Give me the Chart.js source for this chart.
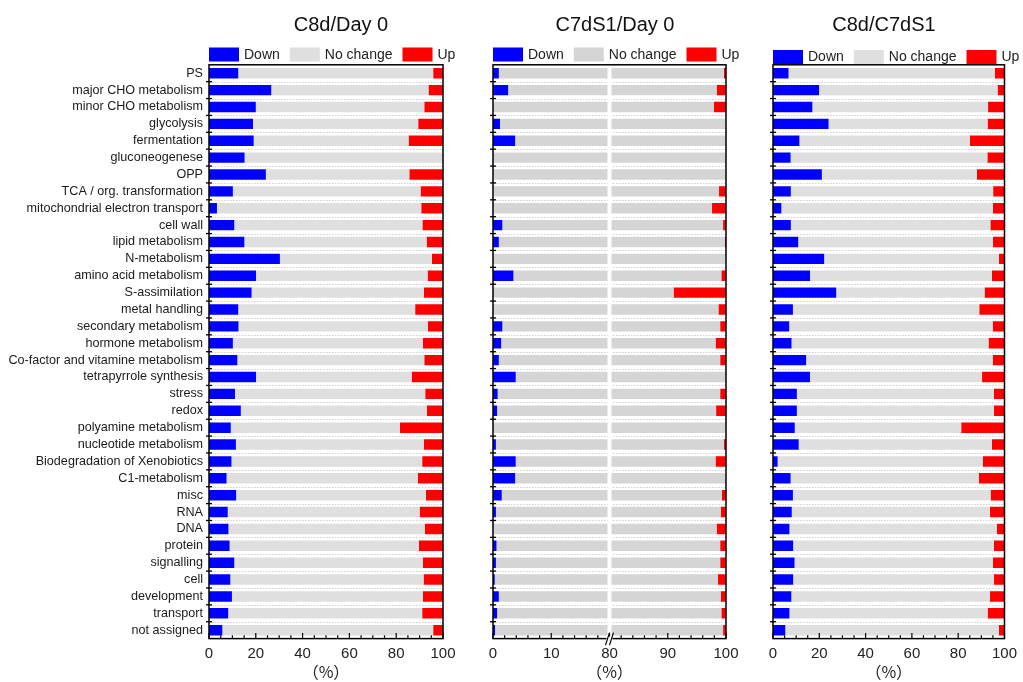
<!DOCTYPE html>
<html>
<head>
<meta charset="utf-8">
<title>Functional categories</title>
<script src="https://cdn.jsdelivr.net/npm/chart.js@4.4.0/dist/chart.umd.min.js"></script>
<style>
  body { margin: 0; background: #fff; }
  #wrap { position: relative; width: 1023px; height: 682px; overflow: hidden; }
  canvas { position: absolute; top: 0; }
</style>
</head>
<body>
<div id="wrap">
  <canvas id="c1" width="470" height="682" style="left:0px"></canvas>
  <canvas id="c2" width="285" height="682" style="left:470px"></canvas>
  <canvas id="c3" width="268" height="682" style="left:755px"></canvas>
</div>
<script>
// Data
const categories = [
  "PS", "major CHO metabolism", "minor CHO metabolism", "glycolysis", "fermentation",
  "gluconeogenese", "OPP", "TCA / org. transformation", "mitochondrial electron transport",
  "cell wall", "lipid metabolism", "N-metabolism", "amino acid metabolism", "S-assimilation",
  "metal handling", "secondary metabolism", "hormone metabolism",
  "Co-factor and vitamine metabolism", "tetrapyrrole synthesis", "stress", "redox",
  "polyamine metabolism", "nucleotide metabolism", "Biodegradation of Xenobiotics",
  "C1-metabolism", "misc", "RNA", "DNA", "protein", "signalling", "cell", "development",
  "transport", "not assigned"
];
const seriesNames = ["Down", "No change", "Up"];
const panelTitles = ["C8d/Day 0", "C7dS1/Day 0", "C8d/C7dS1"];
const axisTitle = "（%）";

// C8d/Day 0
const down1 = [12.5, 26.6, 20.0, 18.8, 19.1, 15.2, 24.3, 10.2, 3.4, 10.8, 15.1, 30.3, 20.1, 18.2, 12.5, 12.6, 10.2,
  12.1, 20.1, 11.1, 13.6, 9.3, 11.5, 9.6, 7.5, 11.6, 8.0, 8.3, 8.8, 10.8, 9.1, 9.8, 8.2, 5.7];
const up1 = [4.2, 6.2, 8.0, 10.6, 14.7, 0, 14.4, 9.6, 9.3, 8.8, 7.0, 4.7, 6.6, 8.2, 11.9, 6.5, 8.6,
  8.0, 13.4, 7.6, 6.9, 18.4, 8.2, 8.9, 10.8, 7.3, 10.0, 7.8, 10.3, 8.6, 8.3, 8.6, 8.9, 4.2];

// C7dS1/Day 0
const down2 = [1.0, 2.6, 0, 1.2, 3.8, 0, 0, 0, 0, 1.6, 1.0, 0, 3.5, 0, 0, 1.6, 1.4,
  1.0, 3.9, 0.8, 0.7, 0, 0.5, 3.9, 3.8, 1.5, 0.5, 0, 0.6, 0.5, 0.3, 1.0, 0.7, 0.35];
const up2 = [0.35, 1.6, 2.1, 0, 0, 0, 0, 1.2, 2.4, 0.5, 0.2, 0, 0.8, 9.0, 1.3, 1.0, 1.8,
  1.0, 0, 1.0, 1.7, 0, 0.35, 1.8, 0, 0.7, 0.9, 1.6, 1.0, 1.0, 1.4, 0.9, 0.8, 0.5];

// C8d/C7dS1
const down3 = [6.7, 19.9, 17.0, 24.0, 11.4, 7.6, 21.1, 7.7, 3.6, 7.7, 10.9, 22.1, 16.0, 27.3, 8.6, 7.0, 8.0,
  14.3, 16.0, 10.3, 10.3, 9.4, 11.1, 2.0, 7.6, 8.6, 8.1, 7.1, 8.7, 9.3, 8.7, 7.9, 7.1, 5.3];
const up3 = [4.1, 3.0, 7.1, 7.3, 15.0, 7.4, 11.9, 4.9, 5.0, 6.1, 5.0, 2.4, 5.4, 8.6, 10.9, 5.1, 6.9,
  5.1, 9.7, 4.6, 4.6, 18.7, 5.4, 9.4, 11.1, 6.0, 6.3, 3.3, 4.6, 5.0, 4.6, 6.3, 7.3, 2.4];

// Tick labels
const tickLabelsFull = ["0", "20", "40", "60", "80", "100"];
const tickLabelsBroken = ["0", "10", "80", "90", "100"];

const BLUE = "#0000ff";
const RED = "#ff0000";
const FONT = "'Liberation Sans', Arial, sans-serif";

// Broken axis: 0-20 kept, 80-100 moved next to it
function squeeze(v) {
  return v <= 20 ? v : v - 60;
}

// Decorations: row separators, frame, ticks, axis break, legend, title
const decorPlugin = {
  id: "decor",
  beforeDatasetsDraw(chart, args, opts) {
    const { ctx, chartArea: a, scales: { y } } = chart;
    ctx.save();
    ctx.strokeStyle = "#cfcfcf";
    ctx.lineWidth = 1;
    ctx.setLineDash([1.5, 1.5]);
    for (let i = 0; i < categories.length - 1; i++) {
      const yy = Math.round((y.getPixelForValue(i) + y.getPixelForValue(i + 1)) / 2) + 0.5;
      ctx.beginPath();
      ctx.moveTo(a.left, yy);
      ctx.lineTo(a.right, yy);
      ctx.stroke();
    }
    ctx.restore();
  },
  afterDatasetsDraw(chart, args, opts) {
    const { ctx, chartArea: a, scales: { x, y } } = chart;
    ctx.save();

    // white gap of the broken axis
    if (opts.broken) {
      const xb = x.getPixelForValue(20);
      ctx.fillStyle = "#fff";
      ctx.fillRect(xb - 2, a.top, 4, a.bottom - a.top);
    }

    // frame
    ctx.strokeStyle = "#000";
    ctx.lineWidth = 1.5;
    ctx.strokeRect(a.left, a.top, a.right - a.left, a.bottom - a.top);

    // y ticks between rows
    ctx.lineWidth = 1.3;
    for (let i = 0; i < categories.length - 1; i++) {
      const yy = (y.getPixelForValue(i) + y.getPixelForValue(i + 1)) / 2;
      ctx.beginPath();
      ctx.moveTo(a.left - 3, yy);
      ctx.lineTo(a.left + 3, yy);
      ctx.stroke();
    }

    // x ticks, pointing inwards
    ctx.lineWidth = 1.2;
    for (let v = x.min; v <= x.max + 0.001; v += opts.minorStep) {
      const major = Math.abs(v / opts.majorStep - Math.round(v / opts.majorStep)) < 0.001;
      const xx = x.getPixelForValue(v);
      ctx.beginPath();
      ctx.moveTo(xx, a.bottom);
      ctx.lineTo(xx, a.bottom - (major ? 5.5 : 3.3));
      ctx.stroke();
    }

    // break mark
    if (opts.broken) {
      const xb = x.getPixelForValue(20);
      ctx.fillStyle = "#fff";
      ctx.fillRect(xb - 3, a.bottom - 2, 6, 4);
      ctx.lineWidth = 1.2;
      ctx.beginPath();
      ctx.moveTo(xb - 4, a.bottom + 6.5);
      ctx.lineTo(xb, a.bottom - 6);
      ctx.moveTo(xb, a.bottom + 6.5);
      ctx.lineTo(xb + 4, a.bottom - 6);
      ctx.stroke();
    }

    // legend
    const colors = [BLUE, opts.gray, RED];
    ctx.font = "14px " + FONT;
    ctx.textBaseline = "middle";
    ctx.textAlign = "left";
    let lx = a.left;
    seriesNames.forEach((name, i) => {
      ctx.fillStyle = colors[i];
      ctx.fillRect(lx, opts.legendY, 30, 14);
      ctx.fillStyle = "#222";
      ctx.fillText(name, lx + 35, opts.legendY + 7.5);
      lx += 35 + ctx.measureText(name).width + 10;
    });

    // title
    ctx.font = "20px " + FONT;
    ctx.fillStyle = "#111";
    ctx.textAlign = "center";
    ctx.fillText(opts.title, opts.titleX, 25);

    ctx.restore();
  }
};

// Render Chart
function renderPanel(id, down, up, cfg) {
  const ctx = document.getElementById(id).getContext("2d");
  let d = down, mid, u = up;
  if (cfg.broken) {
    mid = down.map((v, i) => squeeze(100 - up[i]) - v);
  } else {
    mid = down.map((v, i) => 100 - v - up[i]);
  }
  const bar = { barPercentage: 0.62, categoryPercentage: 1.0, borderWidth: 0 };

  return new Chart(ctx, {
    type: "bar",
    data: {
      labels: categories,
      datasets: [
        { label: seriesNames[0], data: d, backgroundColor: BLUE, ...bar },
        { label: seriesNames[1], data: mid, backgroundColor: cfg.gray, ...bar },
        { label: seriesNames[2], data: u, backgroundColor: RED, ...bar }
      ]
    },
    options: {
      indexAxis: "y",
      responsive: false,
      animation: false,
      events: [],
      layout: { padding: { left: 0, right: cfg.padRight, top: 64.8, bottom: 0 } },
      plugins: {
        legend: { display: false },
        tooltip: { enabled: false },
        decor: {
          title: cfg.title, titleX: cfg.titleX, legendY: cfg.legendY, gray: cfg.gray,
          broken: cfg.broken, minorStep: cfg.minorStep, majorStep: cfg.majorStep
        }
      },
      scales: {
        x: {
          stacked: true,
          min: 0,
          max: cfg.max,
          grid: { display: false, drawTicks: false },
          border: { display: false },
          ticks: {
            stepSize: cfg.majorStep,
            padding: 6,
            color: "#222",
            font: { family: FONT, size: 15 },
            maxRotation: 0,
            callback: (v, i) => cfg.tickLabels[i]
          },
          title: {
            display: true,
            text: axisTitle,
            color: "#222",
            font: { family: "'Noto Sans CJK SC', " + FONT, size: 16 },
            padding: { top: 0, bottom: 0 }
          },
          afterFit: (scale) => { scale.height = 43.4; }
        },
        y: {
          stacked: true,
          grid: { display: false, drawTicks: false },
          border: { display: false },
          ticks: {
            display: cfg.showLabels,
            padding: 6,
            autoSkip: false,
            color: "#1a1a1a",
            font: { family: FONT, size: 12.6 }
          },
          afterFit: (scale) => { scale.width = cfg.yWidth; }
        }
      }
    },
    plugins: [decorPlugin]
  });
}

renderPanel("c1", down1, up1, {
  title: panelTitles[0], titleX: 341, legendY: 47.5, gray: "#dfdfdf", broken: false,
  max: 100, majorStep: 20, minorStep: 5, tickLabels: tickLabelsFull,
  showLabels: true, yWidth: 209, padRight: 27
});
renderPanel("c2", down2, up2, {
  title: panelTitles[1], titleX: 615 - 470, legendY: 47.5, gray: "#d5d5d5", broken: true,
  max: 40, majorStep: 10, minorStep: 2, tickLabels: tickLabelsBroken,
  showLabels: false, yWidth: 23, padRight: 29
});
renderPanel("c3", down3, up3, {
  title: panelTitles[2], titleX: 884 - 755, legendY: 50, gray: "#dfdfdf", broken: false,
  max: 100, majorStep: 20, minorStep: 5, tickLabels: tickLabelsFull,
  showLabels: false, yWidth: 18, padRight: 17
});
</script>
</body>
</html>
